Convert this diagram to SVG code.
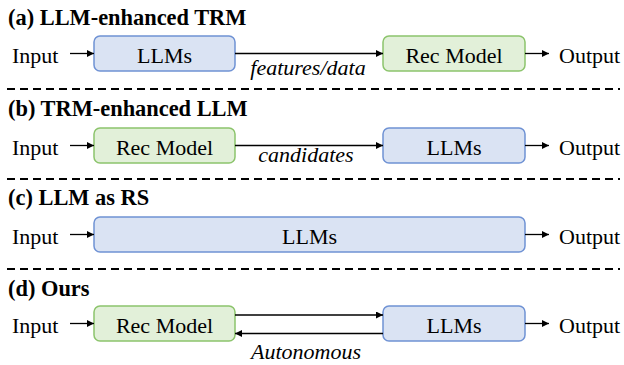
<svg xmlns="http://www.w3.org/2000/svg" width="624" height="365" viewBox="0 0 624 365">
<defs>
<marker id="ah" viewBox="0 0 10 10" refX="10" refY="5" markerWidth="8" markerHeight="7" markerUnits="userSpaceOnUse" orient="auto">
<path d="M0,0 L10,5 L0,10 z" fill="#000"/>
</marker>
<style>
text{font-family:"Liberation Serif","Times New Roman",serif;font-size:22px;fill:#000}
.h{font-weight:bold;font-size:22.4px}
.i{font-style:italic}
.llm{fill:#dae3f3;stroke:#6f92d4;stroke-width:1.5}
.rec{fill:#e2f0d9;stroke:#8cc46c;stroke-width:1.5}
.a{stroke:#000;stroke-width:1.3;fill:none;marker-end:url(#ah)}
.d{stroke:#000;stroke-width:2;stroke-dasharray:8 5;fill:none}
</style>
</defs>
<g id="titles">
<text class="h" x="8" y="25">(a) LLM-enhanced TRM</text>
<text class="h" x="8" y="116">(b) TRM-enhanced LLM</text>
<text class="h" x="8" y="205">(c) LLM as RS</text>
<text class="h" x="8" y="296">(d) Ours</text>
</g>
<g id="separators">
<line class="d" x1="7" y1="89" x2="620" y2="89"/>
<line class="d" x1="7" y1="179" x2="620" y2="179"/>
<line class="d" x1="7" y1="269" x2="620" y2="269"/>
</g>
<g id="a-input"><text x="12" y="63">Input</text></g>
<g id="a-llms"><rect class="llm" x="94" y="36" width="141" height="35" rx="6"/><text x="164.5" y="63" text-anchor="middle">LLMs</text></g>
<g id="a-rec"><rect class="rec" x="383" y="36" width="142" height="35" rx="6"/><text x="454" y="63" text-anchor="middle">Rec Model</text></g>
<g id="a-output"><text x="559" y="63">Output</text></g>
<g id="b-input"><text x="12" y="155">Input</text></g>
<g id="b-rec"><rect class="rec" x="94" y="128" width="141" height="35" rx="6"/><text x="164.5" y="155" text-anchor="middle">Rec Model</text></g>
<g id="b-llms"><rect class="llm" x="383" y="128" width="142" height="35" rx="6"/><text x="454" y="155" text-anchor="middle">LLMs</text></g>
<g id="b-output"><text x="559" y="155">Output</text></g>
<g id="c-input"><text x="12" y="244">Input</text></g>
<g id="c-llms"><rect class="llm" x="94" y="217" width="431" height="35" rx="6"/><text x="309.5" y="244" text-anchor="middle">LLMs</text></g>
<g id="c-output"><text x="559" y="244">Output</text></g>
<g id="d-input"><text x="12" y="333">Input</text></g>
<g id="d-rec"><rect class="rec" x="94" y="306" width="141" height="35" rx="6"/><text x="164.5" y="333" text-anchor="middle">Rec Model</text></g>
<g id="d-llms"><rect class="llm" x="383" y="306" width="142" height="35" rx="6"/><text x="454" y="333" text-anchor="middle">LLMs</text></g>
<g id="d-output"><text x="559" y="333">Output</text></g>
<g id="connectors">
<line class="a" x1="70" y1="53.5" x2="94" y2="53.5"/>
<line class="a" x1="235" y1="53.5" x2="383" y2="53.5"/>
<line class="a" x1="525" y1="53.5" x2="549" y2="53.5"/>
<text class="i" x="308" y="75" text-anchor="middle">features/data</text>
<line class="a" x1="70" y1="145.5" x2="94" y2="145.5"/>
<line class="a" x1="235" y1="145.5" x2="383" y2="145.5"/>
<line class="a" x1="525" y1="145.5" x2="549" y2="145.5"/>
<text class="i" x="306" y="162" text-anchor="middle">candidates</text>
<line class="a" x1="70" y1="234.5" x2="94" y2="234.5"/>
<line class="a" x1="525" y1="234.5" x2="549" y2="234.5"/>
<line class="a" x1="70" y1="323.5" x2="94" y2="323.5"/>
<line class="a" x1="235" y1="315" x2="383" y2="315"/>
<line class="a" x1="383" y1="333.5" x2="235" y2="333.5"/>
<line class="a" x1="525" y1="323.5" x2="549" y2="323.5"/>
<text class="i" x="306" y="359" text-anchor="middle">Autonomous</text>
</g>
</svg>
